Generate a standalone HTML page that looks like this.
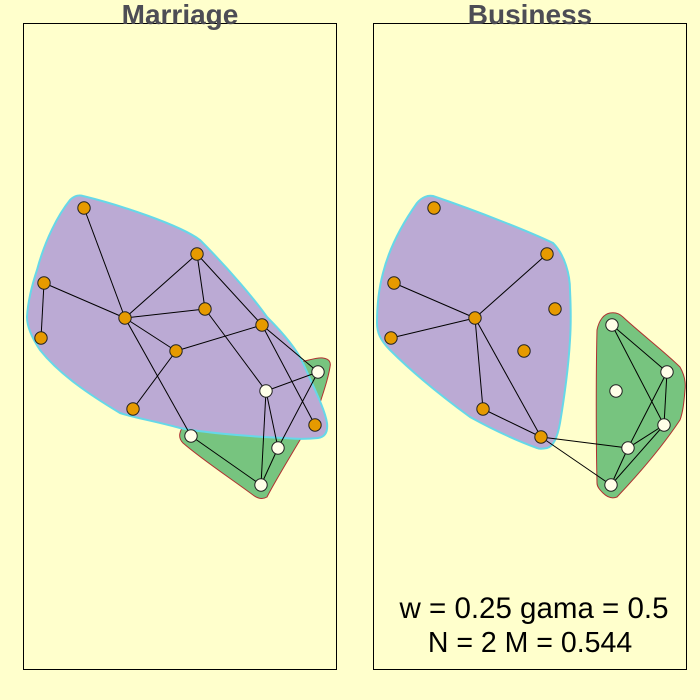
<!DOCTYPE html>
<html><head><meta charset="utf-8"><style>
html,body{margin:0;padding:0;background:#FFFFCC;}
svg{display:block;font-family:"Liberation Sans",sans-serif;}
</style></head><body>
<svg id="chart" width="700" height="700" viewBox="0 0 700 700">
<rect x="0" y="0" width="700" height="700" fill="#FFFFCC"/>
<rect x="23.5" y="23.5" width="313" height="646" fill="none" stroke="#000"/>
<rect x="373.5" y="23.5" width="313" height="646" fill="none" stroke="#000"/>
<path d="M180,433 C181,428 184,427 187,428 L300,362 C310,360 318,357 323,358 C330,359 331,363 330,367 C328,380 323,393 320,403 C312,418 305,430 300,440 C285,465 273,485 267,497 C262,500 257,498 253,495 C230,478 200,458 183,443 C180,440 179,437 180,433 Z" fill="#77C47F" stroke="#B03030" stroke-width="1"/>
<path d="M83,196 C120,205 180,225 200,240 C230,270 255,300 267,317 C285,335 297,350 303,363 C315,390 325,410 327,423 C328,432 325,437 318,438 C300,440 285,438 283,438 C240,436 200,432 180,428 C150,420 135,418 120,413 C90,395 60,375 40,350 C30,335 27,325 27,317 C28,300 32,285 37,270 C45,240 58,215 70,200 C75,195 80,195 83,196 Z" fill="#BBAAD4" stroke="#66D8E8" stroke-width="2"/>
<path d="M433,196 C480,212 530,232 553,243 C565,255 570,275 570,290 C571,310 571,325 570,340 C568,375 563,405 560,423 C557,440 552,447 547,448 C542,449 539,449 537,448 C515,440 490,428 470,417 C440,395 410,370 390,350 C380,340 377,332 377,323 C377,305 379,288 383,273 C390,245 405,220 417,203 C422,197 428,195 433,196 Z" fill="#BBAAD4" stroke="#66D8E8" stroke-width="2"/>
<path d="M610,313 C616,312 620,314 623,317 C640,333 665,352 680,367 C684,374 686,382 685,390 C684,402 683,412 680,420 C660,450 635,478 617,497 C612,499 607,497 603,493 C600,490 597,487 597,483 C596,440 596,370 597,330 C599,320 604,314 610,313 Z" fill="#77C47F" stroke="#B03030" stroke-width="1"/>
<g id="marks"></g>
<text x="180" y="24" text-anchor="middle" font-size="28" font-weight="bold" fill="#4D4D55">Marriage</text>
<text x="530" y="24" text-anchor="middle" font-size="28" font-weight="bold" fill="#4D4D55">Business</text>
<text x="534" y="618" text-anchor="middle" font-size="29.5" fill="#000">w = 0.25 gama = 0.5</text>
<text x="530" y="652" text-anchor="middle" font-size="28.5" fill="#000">N = 2 M = 0.544</text>
</svg>
<script>
// node data: [x, y, group] in plot coordinates
const marriageNodes = [[84,208,1],[197,254,1],[44,283,1],[205,309,1],[125,318,1],[262,325,1],[41,338,1],[176,351,1],[133,409,1],[315,425,1],
  [318,372,2],[266,391,2],[191,436,2],[278,448,2],[261,485,2]];
const marriageEdges = [[0,4],[2,4],[2,6],[4,1],[4,3],[1,3],[4,7],[1,5],[7,5],[7,8],[4,12],[3,11],[5,10],[5,9],[11,10],[11,14],[11,13],[10,13],[13,14],[12,14]];
const businessNodes = [[434,208,1],[547,254,1],[394,283,1],[555,309,1],[475,318,1],[524,351,1],[391,338,1],[483,409,1],[541,437,1],
  [612,325,2],[667,372,2],[616,391,2],[664,425,2],[628,448,2],[611,485,2]];
const businessEdges = [[2,4],[6,4],[4,1],[4,7],[4,8],[7,8],[9,10],[9,12],[10,13],[10,12],[12,13],[12,14],[13,14],[8,13],[8,14]];
const groupColors = ['', '#E69A00', '#FFFFE8'];
const ns = 'http://www.w3.org/2000/svg';
const g = document.getElementById('marks');
function draw(nodes, edges, panel){
  edges.forEach(e => {
    const a = nodes[e[0]], b = nodes[e[1]];
    const l = document.createElementNS(ns,'line');
    l.setAttribute('x1',a[0]); l.setAttribute('y1',a[1]);
    l.setAttribute('x2',b[0]); l.setAttribute('y2',b[1]);
    l.setAttribute('stroke','#000'); l.setAttribute('stroke-width','1');
    
    
    g.appendChild(l);
  });
  nodes.forEach(n => {
    const c = document.createElementNS(ns,'circle');
    c.setAttribute('cx',n[0]); c.setAttribute('cy',n[1]); c.setAttribute('r','6.2');
    c.setAttribute('fill',groupColors[n[2]]); c.setAttribute('stroke','#222'); c.setAttribute('stroke-width','1');
    
    
    g.appendChild(c);
  });
}
draw(marriageNodes, marriageEdges, 'marriage');
draw(businessNodes, businessEdges, 'business');
</script>
</body></html>
